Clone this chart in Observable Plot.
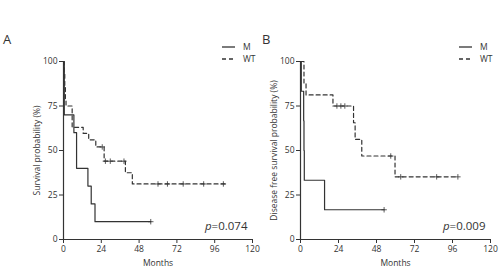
<!DOCTYPE html>
<html>
<head>
<meta charset="utf-8">
<script src="https://cdn.jsdelivr.net/npm/d3@7"></script>
<script src="https://cdn.jsdelivr.net/npm/@observablehq/plot@0.6"></script>
<style>
  body { margin: 0; background: #fff; }
  #wrap { position: relative; width: 500px; height: 273px; font-family: "Open Sans", sans-serif; color: #333; overflow: hidden; }
  #wrap svg.plot { position: absolute; top: 0; overflow: visible; }
  .letter { position: absolute; font-size: 13px; line-height: 1; }
  .legend { position: absolute; font-size: 8.5px; line-height: 12px; }
  .legend div { display: flex; align-items: center; }
  .legend svg { margin-right: 8px; }
</style>
</head>
<body>
<div id="wrap"></div>
<script>
// ---- Data ----
const xTicks = [0, 24, 48, 72, 96, 120];
const yTicks = [0, 25, 50, 75, 100];
const groups = ["M", "WT"];

// Panel A: overall survival
const aMonthsM = [0, 0.5, 6.6, 8.3, 15.5, 17.6, 20, 55.4];
const aSurvM   = [100, 70, 60, 40, 30, 20, 10, 10];
const aCensMonthsM = [55.4];
const aCensSurvM   = [10];

const aMonthsWT = [0, 0.4, 0.8, 1.2, 1.6, 5.5, 12.5, 16, 20.5, 25.8, 39.3, 43.7, 102.6];
const aSurvWT   = [100, 93, 86, 79, 75, 63, 59.6, 56, 52, 44, 37.5, 31.2, 31.2];
const aCensMonthsWT = [24.6, 26.6, 29.7, 38.4, 60, 66, 76, 89, 101.5];
const aCensSurvWT   = [52, 44, 44, 44, 31.2, 31.2, 31.2, 31.2, 31.2];

// Panel B: disease free survival
const bMonthsM = [0, 0.5, 2, 2.2, 2.4, 15.2, 52.8];
const bSurvM   = [100, 83.3, 66.7, 50, 33.3, 16.7, 16.7];
const bCensMonthsM = [52.8];
const bCensSurvM   = [16.7];

const bMonthsWT = [0, 2.2, 3.5, 20.5, 33.5, 34.5, 38.7, 59.7, 99.4];
const bSurvWT   = [100, 87.5, 81.25, 75, 65.6, 56.25, 46.9, 35.2, 35.2];
const bCensMonthsWT = [23, 25.5, 28, 57, 63.3, 86, 99.4];
const bCensSurvWT   = [75, 75, 75, 46.9, 35.2, 35.2, 35.2];

const ink = "#333";

function rows(xs, ys, g) { return xs.map((x, i) => ({month: x, surv: ys[i], group: g})); }

function panel(opts) {
  const curve = rows(opts.mx, opts.my, "M").concat(rows(opts.wx, opts.wy, "WT"));
  const cens = rows(opts.cmx, opts.cmy, "M").concat(rows(opts.cwx, opts.cwy, "WT"));
  const svg = Plot.plot({
    width: opts.width, height: 273,
    marginLeft: opts.ml, marginRight: opts.mr, marginTop: 61, marginBottom: 34,
    style: {fontFamily: "'Open Sans', sans-serif", fontSize: "8.5px", color: ink, background: "transparent"},
    x: {domain: [0, 120], ticks: xTicks, tickSize: 4, tickPadding: 2, label: "Months", labelAnchor: "center", labelArrow: "none", labelOffset: 26},
    y: {domain: [0, 100], ticks: yTicks, tickSize: 4, tickPadding: 2, label: opts.ylabel, labelAnchor: "center", labelArrow: "none", labelOffset: opts.ylo},
    marks: [
      Plot.ruleX([0], {stroke: ink, strokeWidth: 1.2}),
      Plot.ruleY([0], {stroke: ink, strokeWidth: 1.2}),
      Plot.line(curve.filter(d => d.group === "M"), {x: "month", y: "surv", curve: "step-after", stroke: ink, strokeWidth: 1.2}),
      Plot.line(curve.filter(d => d.group === "WT"), {x: "month", y: "surv", curve: "step-after", stroke: ink, strokeWidth: 1.2, strokeDasharray: "4,3"}),
      Plot.dot(cens, {x: "month", y: "surv", symbol: "plus", r: 1.9, stroke: ink, strokeWidth: 0.8}),
      Plot.text([opts.ptext], {frameAnchor: "bottom-right", dx: -5, dy: -10, text: d => d, fontSize: 11.5, fill: ink})
    ]
  });
  svg.classList.add("plot");
  svg.style.left = opts.left + "px";
  // italic p
  svg.querySelectorAll("text").forEach(t => {
    if (t.textContent === opts.ptext) {
      t.textContent = "";
      const ns = "http://www.w3.org/2000/svg";
      const a = document.createElementNS(ns, "tspan"); a.setAttribute("font-style", "italic"); a.textContent = "p";
      const b = document.createElementNS(ns, "tspan"); b.textContent = opts.ptext.slice(1);
      t.appendChild(a); t.appendChild(b);
    }
  });
  return svg;
}

const wrap = document.getElementById("wrap");
wrap.appendChild(panel({left: 0, width: 260, ml: 63, mr: 8, ylabel: "Survival probability (%)", ylo: 30,
  mx: aMonthsM, my: aSurvM, wx: aMonthsWT, wy: aSurvWT,
  cmx: aCensMonthsM, cmy: aCensSurvM, cwx: aCensMonthsWT, cwy: aCensSurvWT, ptext: "p=0.074"}));
wrap.appendChild(panel({left: 250, width: 250, ml: 50, mr: 10, ylabel: "Disease free survival probability (%)", ylo: 30,
  mx: bMonthsM, my: bSurvM, wx: bMonthsWT, wy: bSurvWT,
  cmx: bCensMonthsM, cmy: bCensSurvM, cwx: bCensMonthsWT, cwy: bCensSurvWT, ptext: "p=0.009"}));

function addLetter(t, x, y) {
  const d = document.createElement("div"); d.className = "letter"; d.textContent = t;
  d.style.left = x + "px"; d.style.top = y + "px"; wrap.appendChild(d);
}
addLetter("A", 3, 33); addLetter("B", 262, 33);

function addLegend(x, y) {
  const L = document.createElement("div"); L.className = "legend";
  L.style.left = x + "px"; L.style.top = y + "px";
  groups.forEach(g => {
    const row = document.createElement("div");
    row.innerHTML = `<svg width="13" height="6"><line x1="0" x2="13" y1="3" y2="3" stroke="${ink}" stroke-width="1.3" ${g === "WT" ? 'stroke-dasharray="4,3"' : ""}></line></svg><span>${g}</span>`;
    L.appendChild(row);
  });
  wrap.appendChild(L);
}
addLegend(222, 41); addLegend(459, 41);
</script>
</body>
</html>
